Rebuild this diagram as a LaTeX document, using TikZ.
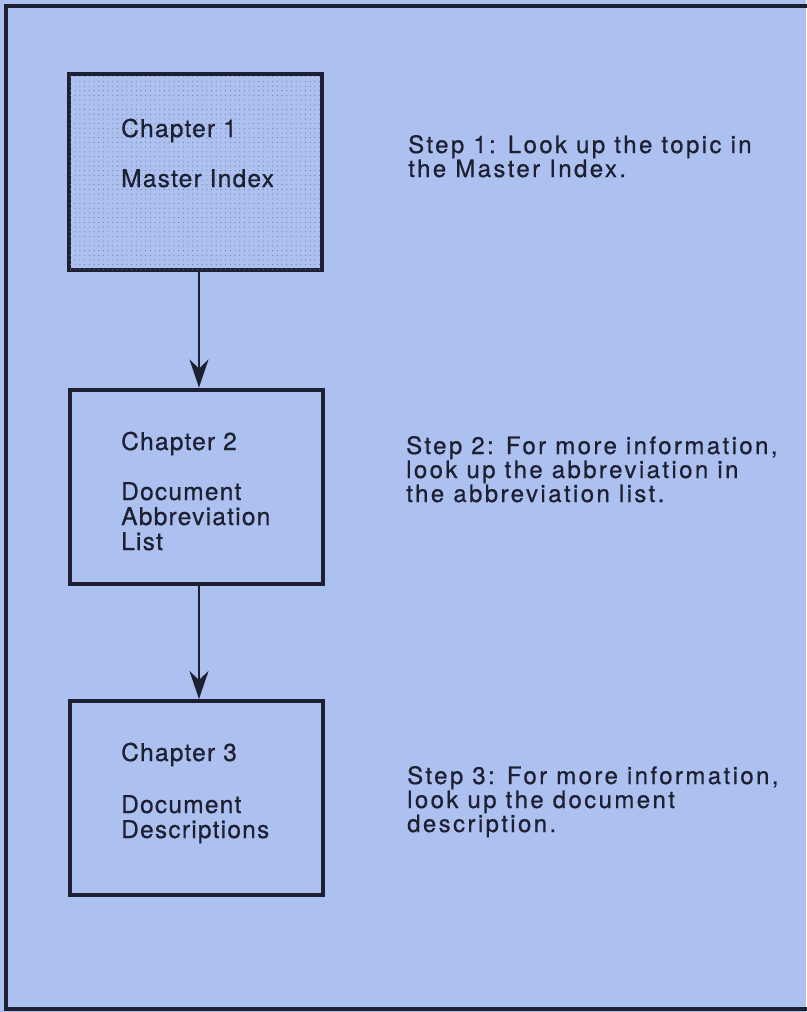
\documentclass[tikz,border=0pt]{standalone}
\usepackage{fontspec}
\setmainfont{TeX Gyre Heros}
\newfontfamily\stepfont[LetterSpace=10,FakeBold=0.6]{TeX Gyre Heros}
\newfontfamily\chapfont[LetterSpace=5,FakeBold=0.6]{TeX Gyre Heros}
\usetikzlibrary{arrows.meta,patterns.meta}
\definecolor{bgblue}{RGB}{173,193,240}
\definecolor{ink}{RGB}{30,32,50}
\definecolor{dotc}{RGB}{105,118,160}
\tikzset{
  chapbox/.style={draw=ink, line width=4pt, minimum width=253pt, minimum height=194pt, inner sep=0pt},
  flow/.style={draw=ink, line width=2pt, -{Stealth[length=28pt,width=19pt,inset=9pt]}},
  chaptext/.style={anchor=base west, align=left, inner sep=0pt, text=ink, font=\chapfont\fontsize{24.5pt}{25pt}\selectfont},
  steptext/.style={anchor=base west, align=left, inner sep=0pt, text=ink, font=\stepfont\fontsize{24pt}{24pt}\selectfont}
}
\begin{document}
\begin{tikzpicture}[x=1pt,y=-1pt]
\useasboundingbox (0,0) rectangle (806,1012);
\fill[bgblue] (0,0) rectangle (806,1012);
\draw[ink, line width=4.5pt] (830,6) -- (6,6) -- (6,1009) -- (830,1009);
\node[chapbox, fill=bgblue, minimum height=196pt] (b1) at (195,172) {};
\fill[pattern={Dots[distance=4.7pt,radius=0.55pt]}, pattern color=dotc] ([shift={(3,-3)}]b1.south west) rectangle ([shift={(-3,3)}]b1.north east);
\node[chapbox] (b2) at (196,486.5) {};
\node[chapbox] (b3) at (196,798) {};
\coordinate (ax) at (199,0);
\draw[flow] (b1.south -| ax) -- (b2.north -| ax);
\draw[flow] (b2.south -| ax) -- (b3.north -| ax);
\node[chaptext] (t1) at (121,187) {Chapter 1\\[25pt]Master Index};
\node[chaptext] (t2) at (121,550) {Chapter 2\\[25pt]Document\\Abbreviation\\List};
\node[chaptext] (t3) at (121,838) {Chapter 3\\[27pt]Document\\Descriptions};
\node[steptext] (s1) at (408,177) {Step 1: Look up the topic in\\the Master Index.};
\node[steptext] (s2) at (406,502) {Step 2: For more information,\\look up the abbreviation in\\the abbreviation list.};
\node[steptext] (s3) at (407,832) {Step 3: For more information,\\look up the document\\description.};
\end{tikzpicture}
\end{document}
